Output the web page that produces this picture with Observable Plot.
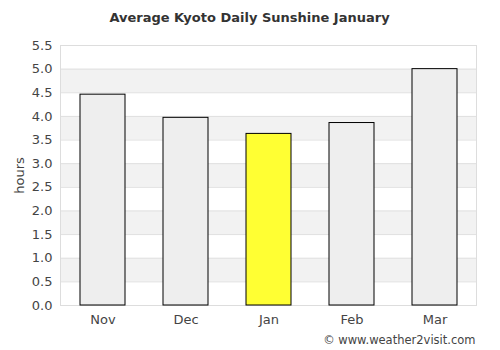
<!DOCTYPE html>
<html>
<head>
<meta charset="utf-8">
<script src="https://cdn.jsdelivr.net/npm/d3@7"></script>
<script src="https://cdn.jsdelivr.net/npm/@observablehq/plot@0.6"></script>
<style>
  html, body { margin: 0; padding: 0; background: #fff; }
  #chart { width: 500px; height: 350px; }
</style>
</head>
<body>
<div id="chart"></div>
<script>
const months = ["Nov", "Dec", "Jan", "Feb", "Mar"];
const sunshine = [4.46, 3.97, 3.63, 3.86, 5.0];
const highlight = "Jan";
const yTicks = [0, 0.5, 1.0, 1.5, 2.0, 2.5, 3.0, 3.5, 4.0, 4.5, 5.0, 5.5];
const title = "Average Kyoto Daily Sunshine January";
const credit = "\u00a9 www.weather2visit.com";
const yLabel = "hours";

const data = months.map((m, i) => ({month: m, value: sunshine[i]}));
const bands = yTicks.slice(0, -1)
  .map((t, i) => ({y1: t, y2: yTicks[i + 1], shaded: i % 2 === 1}))
  .filter(d => d.shaded);

const chart = Plot.plot({
  width: 500,
  height: 350,
  marginLeft: 60,
  marginRight: 24,
  marginTop: 45,
  marginBottom: 45,
  style: {fontFamily: "DejaVu Sans, Verdana, sans-serif", fontSize: "13px", color: "#444", background: "#fff"},
  x: {domain: months, paddingInner: 0.46, paddingOuter: 0.23, label: null},
  y: {domain: [0, 5.5], label: null},
  marks: [
    Plot.rect(bands, {y1: "y1", y2: "y2", fill: "#f2f2f2"}),
    Plot.gridY(yTicks, {stroke: "#e0e0e0", strokeOpacity: 1, strokeWidth: 1}),
    Plot.frame({stroke: "#dddddd"}),
    Plot.barY(data, {x: "month", y: "value", fill: d => d.month === highlight ? "#ffff33" : "#eeeeee", stroke: "#000", strokeWidth: 1}),
    Plot.axisY({ticks: yTicks, tickFormat: d3.format(".1f"), tickSize: 0, tickPadding: 8, label: yLabel, labelAnchor: "center", labelArrow: "none", labelOffset: 46, fill: "#444", fontSize: 13}),
    Plot.axisX({tickSize: 0, tickPadding: 9, label: null, fill: "#444", fontSize: 13}),
    Plot.text([title], {frameAnchor: "top", dx: -19, dy: -33, text: d => d, fontWeight: "bold", fontSize: 13, fill: "#333"}),
    Plot.text([credit], {frameAnchor: "bottom-right", dx: -1, dy: 38, textAnchor: "end", text: d => d, fontSize: 11.5, fill: "#444"})
  ]
});
document.getElementById("chart").append(chart);
</script>
</body>
</html>
